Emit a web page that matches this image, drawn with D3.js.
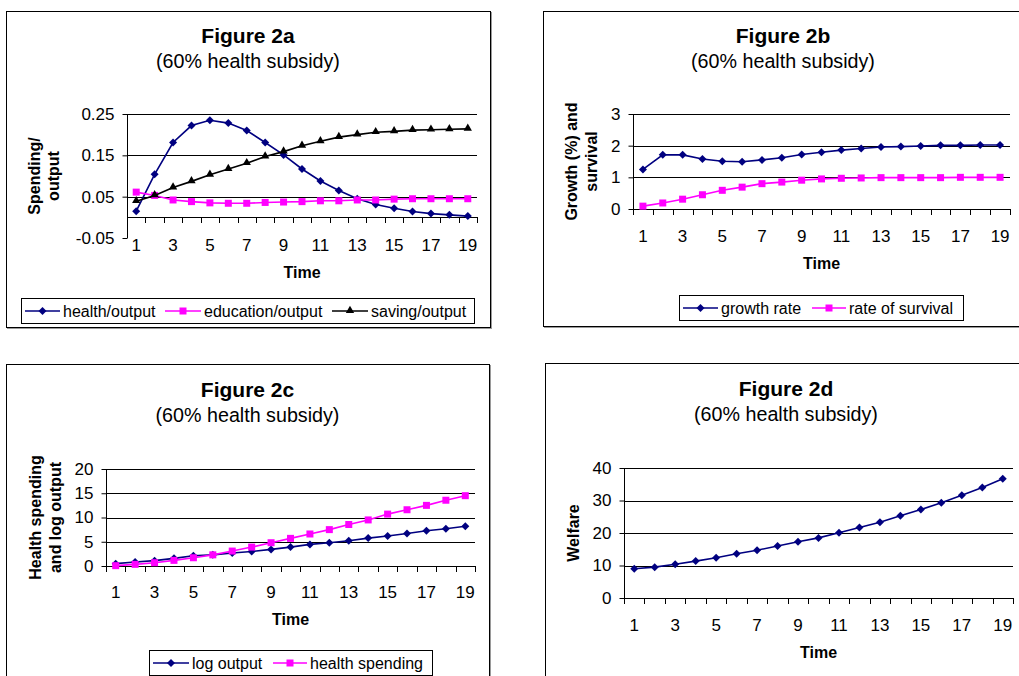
<!DOCTYPE html>
<html><head><meta charset="utf-8">
<script src="https://cdn.jsdelivr.net/npm/d3@7"></script>
<style>
html,body{margin:0;padding:0;background:#fff;}
svg{display:block;font-family:"Liberation Sans",Arial,sans-serif;}
</style></head>
<body>
<svg id="chart" width="1019" height="676"></svg>
<script>
// ---------- DATA ----------
const time = [1,2,3,4,5,6,7,8,9,10,11,12,13,14,15,16,17,18,19];
const timeTickLabels = [1,3,5,7,9,11,13,15,17,19];

// Figure 2a
const healthOutput    = [0.015,0.104,0.181,0.222,0.235,0.228,0.210,0.181,0.151,0.117,0.088,0.065,0.045,0.031,0.022,0.014,0.009,0.006,0.003];
const educationOutput = [0.061,0.053,0.042,0.038,0.035,0.034,0.034,0.036,0.037,0.038,0.040,0.040,0.042,0.042,0.044,0.045,0.045,0.045,0.045];
const savingOutput    = [0.039,0.053,0.072,0.087,0.103,0.117,0.131,0.147,0.159,0.173,0.184,0.194,0.200,0.206,0.208,0.211,0.212,0.213,0.214];
const aTicks = [-0.05,0.05,0.15,0.25];
const aTickLabels = ["-0.05","0.05","0.15","0.25"];

// Figure 2b
const growthRate   = [1.25,1.71,1.71,1.58,1.51,1.49,1.55,1.62,1.72,1.79,1.86,1.91,1.96,1.97,1.99,2.01,2.01,2.02,2.02];
const survivalRate = [0.09,0.19,0.31,0.45,0.59,0.69,0.80,0.85,0.91,0.95,0.97,0.98,0.99,0.99,0.99,0.99,1.00,1.00,1.00];
const bTicks = [0,1,2,3];

// Figure 2c
const logOutput      = [0.48,0.82,1.10,1.58,2.10,2.30,2.67,3.00,3.42,3.90,4.45,4.80,5.20,5.75,6.20,6.70,7.26,7.67,8.20];
const healthSpending = [0.07,0.34,0.68,1.16,1.70,2.30,3.08,3.90,4.80,5.70,6.60,7.50,8.56,9.50,10.70,11.60,12.50,13.56,14.50];
const cTicks = [0,5,10,15,20];

// Figure 2d
const welfare = [9.0,9.5,10.4,11.35,12.4,13.6,14.7,16.0,17.3,18.5,20.05,21.7,23.3,25.3,27.2,29.3,31.6,34.0,36.7];
const dTicks = [0,10,20,30,40];

// ---------- DRAWING ----------
const svg = d3.select("#chart");
const NAVY = "#000080", MAG = "#FF00FF", BLK = "#000000";

function marker(g, type, x, y, color) {
  let p;
  if (type === "diamond") {
    p = g.append("path").attr("d", d3.symbol(d3.symbolSquare, 32)())
      .attr("transform", `translate(${x},${y}) rotate(45)`);
  } else if (type === "square") {
    p = g.append("path").attr("d", d3.symbol(d3.symbolSquare, 49)())
      .attr("transform", `translate(${x},${y})`);
  } else {
    p = g.append("path").attr("d", d3.symbol(d3.symbolTriangle, 30)())
      .attr("transform", `translate(${x},${y - 0.5})`);
  }
  p.attr("fill", color).attr("stroke", "none");
}

function panel(cfg) {
  const g = svg.append("g");
  // frame with shadow
  g.append("rect").attr("x", cfg.box[0] + 1.5).attr("y", cfg.box[1] + 1.5)
    .attr("width", cfg.box[2] - cfg.box[0]).attr("height", cfg.box[3] - cfg.box[1])
    .attr("fill", "none").attr("stroke", "#9a9a9a").attr("stroke-width", 1);
  g.append("rect").attr("x", cfg.box[0] + 0.5).attr("y", cfg.box[1] + 0.5)
    .attr("width", cfg.box[2] - cfg.box[0]).attr("height", cfg.box[3] - cfg.box[1])
    .attr("fill", "#fff").attr("stroke", "#000").attr("stroke-width", 1);

  const cx = (cfg.box[0] + cfg.box[2]) / 2;
  g.append("text").attr("x", cx).attr("y", cfg.titleY).attr("dy", "0.35em")
    .attr("text-anchor", "middle").attr("font-size", 21).attr("font-weight", "bold")
    .text(cfg.title);
  g.append("text").attr("x", cx).attr("y", cfg.titleY + 25).attr("dy", "0.35em")
    .attr("text-anchor", "middle").attr("font-size", 19.7)
    .text("(60% health subsidy)");

  const [L, T, R, B] = cfg.plot;
  const x = d3.scaleBand().domain(time).range([L, R]);
  const y = d3.scaleLinear().domain(cfg.yDomain).range([B, T]);
  const xc = d => x(d) + x.bandwidth() / 2;
  const axisY = y(cfg.cross);

  // gridlines
  cfg.ticks.filter(t => t !== cfg.cross && t !== cfg.yDomain[0]).forEach(t => {
    g.append("line").attr("x1", L).attr("x2", R)
      .attr("y1", Math.round(y(t)) + 0.5).attr("y2", Math.round(y(t)) + 0.5)
      .attr("stroke", "#000").attr("stroke-width", 1);
  });

  // y axis
  const ya = d3.axisLeft(y).tickValues(cfg.ticks).tickSize(5).tickPadding(8)
    .tickFormat((d, i) => cfg.tickLabels ? cfg.tickLabels[i] : d);
  const yg = g.append("g").attr("transform", `translate(${L + 0.5},0)`).call(ya);
  yg.select(".domain").remove();
  yg.selectAll("text").attr("font-size", 17).attr("fill", "#000")
    .style("font-family", '"Liberation Sans",Arial,sans-serif');
  yg.selectAll("line").attr("stroke", "#000");
  g.append("line").attr("x1", L + 0.5).attr("x2", L + 0.5).attr("y1", T).attr("y2", B)
    .attr("stroke", "#000");

  // x axis line and boundary ticks
  g.append("line").attr("x1", L).attr("x2", R)
    .attr("y1", Math.round(axisY) + 0.5).attr("y2", Math.round(axisY) + 0.5)
    .attr("stroke", "#000");
  const bounds = time.map(d => x(d)).concat([R]);
  bounds.forEach(bx => {
    g.append("line").attr("x1", Math.round(bx) + 0.5).attr("x2", Math.round(bx) + 0.5)
      .attr("y1", Math.round(axisY)).attr("y2", Math.round(axisY) + 6)
      .attr("stroke", "#000");
  });
  // x tick labels
  const xa = d3.axisBottom(x).tickValues(timeTickLabels).tickSize(0).tickPadding(0);
  const xg = g.append("g").attr("transform", `translate(0,${cfg.xLabelY})`).call(xa);
  xg.select(".domain").remove();
  xg.selectAll("text").attr("font-size", 17).attr("fill", "#000").attr("dy", "0.35em").attr("y", 0)
    .style("font-family", '"Liberation Sans",Arial,sans-serif');

  // axis titles
  g.append("text").attr("x", (L + R) / 2).attr("y", cfg.xLabelY + 27).attr("dy", "0.35em")
    .attr("text-anchor", "middle").attr("font-size", 16).attr("font-weight", "bold").text("Time");
  const ymid = (T + B) / 2;
  cfg.yTitle.forEach((line, i) => {
    g.append("text")
      .attr("transform", `translate(${cfg.yTitleX[i]},${ymid}) rotate(-90)`)
      .attr("dy", "0.35em").attr("text-anchor", "middle")
      .attr("font-size", 16).attr("font-weight", "bold").text(line);
  });

  // series
  cfg.series.forEach(s => {
    const line = d3.line().x((d, i) => xc(time[i])).y(d => y(d));
    g.append("path").datum(s.values).attr("d", line)
      .attr("fill", "none").attr("stroke", s.color).attr("stroke-width", 1.6);
    s.values.forEach((v, i) => marker(g, s.marker, xc(time[i]), y(v), s.color));
  });

  // legend
  if (cfg.legend) {
    const lg = cfg.legend;
    g.append("rect").attr("x", lg.box[0] + 0.5).attr("y", lg.box[1] + 0.5)
      .attr("width", lg.box[2] - lg.box[0]).attr("height", lg.box[3] - lg.box[1])
      .attr("fill", "#fff").attr("stroke", "#000");
    const ly = (lg.box[1] + lg.box[3]) / 2 + 0.5;
    cfg.series.forEach((s, i) => {
      const [x1, x2] = lg.items[i];
      g.append("line").attr("x1", x1).attr("x2", x2).attr("y1", ly).attr("y2", ly)
        .attr("stroke", s.color).attr("stroke-width", 1.6);
      marker(g, s.marker, (x1 + x2) / 2, ly, s.color);
      g.append("text").attr("x", x2 + 3).attr("y", ly).attr("dy", "0.35em")
        .attr("font-size", 16).text(s.name);
    });
  }
}

panel({
  box: [6, 11, 490, 327], title: "Figure 2a", titleY: 36,
  plot: [127, 114, 477, 238], yDomain: [-0.05, 0.25], cross: 0,
  ticks: aTicks, tickLabels: aTickLabels, xLabelY: 245,
  yTitle: ["Spending/", "output"], yTitleX: [34, 53],
  series: [
    { name: "health/output", values: healthOutput, color: NAVY, marker: "diamond" },
    { name: "education/output", values: educationOutput, color: MAG, marker: "square" },
    { name: "saving/output", values: savingOutput, color: BLK, marker: "triangle" }
  ],
  legend: { box: [21, 298, 474, 323], items: [[25, 60], [165, 201], [332, 368]] }
});

panel({
  box: [543, 11, 1023, 326], title: "Figure 2b", titleY: 36,
  plot: [633, 114, 1010, 209], yDomain: [0, 3], cross: 0,
  ticks: bTicks, xLabelY: 236,
  yTitle: ["Growth (%) and", "survival"], yTitleX: [571, 591],
  series: [
    { name: "growth rate", values: growthRate, color: NAVY, marker: "diamond" },
    { name: "rate of survival", values: survivalRate, color: MAG, marker: "square" }
  ],
  legend: { box: [679, 295, 963, 320], items: [[683, 718], [812, 846]] }
});

panel({
  box: [6, 364, 489, 700], title: "Figure 2c", titleY: 390,
  plot: [106, 469, 475, 566], yDomain: [0, 20], cross: 0,
  ticks: cTicks, xLabelY: 592,
  yTitle: ["Health spending", "and log output"], yTitleX: [35, 55],
  series: [
    { name: "log output", values: logOutput, color: NAVY, marker: "diamond" },
    { name: "health spending", values: healthSpending, color: MAG, marker: "square" }
  ],
  legend: { box: [149, 650, 432, 675], items: [[153, 189], [273, 307]] }
});

panel({
  box: [545, 363, 1027, 700], title: "Figure 2d", titleY: 389,
  plot: [624, 468, 1013, 598], yDomain: [0, 40], cross: 0,
  ticks: dTicks, xLabelY: 625,
  yTitle: ["Welfare"], yTitleX: [573],
  series: [
    { name: "welfare", values: welfare, color: NAVY, marker: "diamond" }
  ]
});
</script>
</body></html>
